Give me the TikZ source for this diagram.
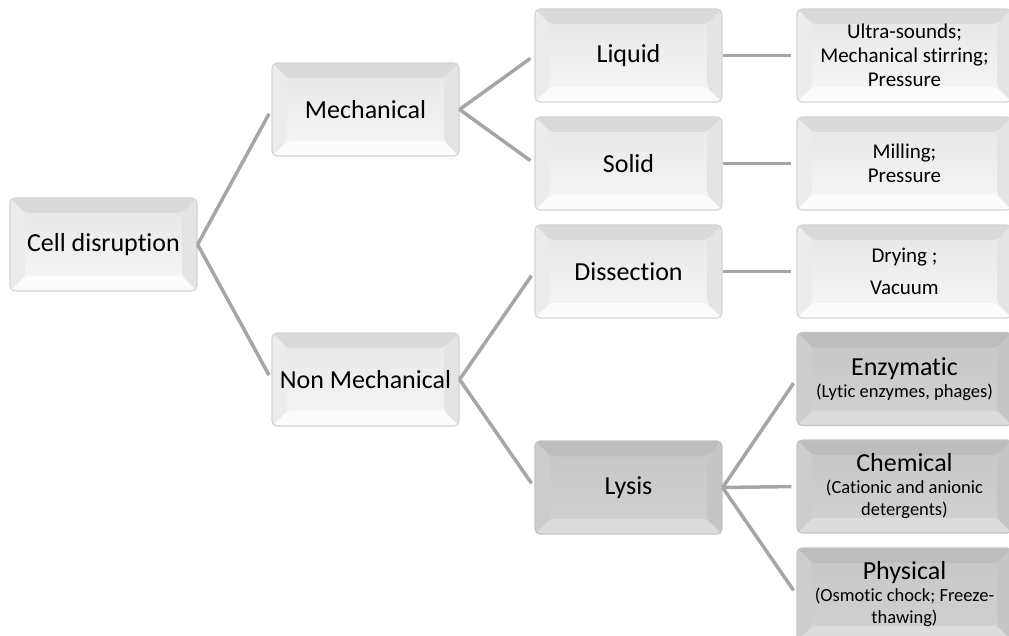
\documentclass[tikz,border=0pt]{standalone}
\usepackage{fontspec}
\setmainfont{Carlito}[Ligatures=NoCommon]
\definecolor{linkgray}{HTML}{A6A6A6}
\definecolor{boxedge}{HTML}{D4D4D4}
\definecolor{facetop}{HTML}{E6E6E6}
\definecolor{facebot}{HTML}{F7F7F7}
\definecolor{beveltop}{HTML}{DADADA}
\definecolor{bevelbot}{HTML}{FCFCFC}
\definecolor{bevelleft}{HTML}{ECECEC}
\definecolor{bevelright}{HTML}{E4E4E4}
\definecolor{darkedge}{HTML}{C4C4C4}
\definecolor{darktop}{HTML}{C6C6C6}
\definecolor{darkbot}{HTML}{D2D2D2}
\definecolor{darkbeveltop}{HTML}{BDBDBD}
\definecolor{darkbevelbot}{HTML}{DCDCDC}
\definecolor{darkbevelleft}{HTML}{CDCDCD}
\definecolor{darkbevelright}{HTML}{C5C5C5}
\tikzset{
  bevel/.style n args={4}{path picture={
    \fill[#1] (path picture bounding box.north west) -- (path picture bounding box.north east)
      -- ([shift={(-15pt,-15pt)}]path picture bounding box.north east)
      -- ([shift={(15pt,-15pt)}]path picture bounding box.north west) -- cycle;
    \fill[#2] (path picture bounding box.south west) -- (path picture bounding box.south east)
      -- ([shift={(-15pt,15pt)}]path picture bounding box.south east)
      -- ([shift={(15pt,15pt)}]path picture bounding box.south west) -- cycle;
    \fill[#3] (path picture bounding box.north west) -- ([shift={(15pt,-15pt)}]path picture bounding box.north west)
      -- ([shift={(15pt,15pt)}]path picture bounding box.south west) -- (path picture bounding box.south west) -- cycle;
    \fill[#4] (path picture bounding box.north east) -- ([shift={(-15pt,-15pt)}]path picture bounding box.north east)
      -- ([shift={(-15pt,15pt)}]path picture bounding box.south east) -- (path picture bounding box.south east) -- cycle;
  }},
  box/.style={rectangle, rounded corners=5pt, draw=boxedge, line width=1.2pt,
    minimum width=187pt, minimum height=93pt, align=center, inner sep=2pt,
    top color=facetop, bottom color=facebot,
    bevel={beveltop}{bevelbot}{bevelleft}{bevelright},
    font=\fontsize{26}{30}\selectfont},
  darkbox/.style={box, draw=darkedge, top color=darktop, bottom color=darkbot,
    bevel={darkbeveltop}{darkbevelbot}{darkbevelleft}{darkbevelright}},
  wide/.style={minimum width=215pt, font=\fontsize{21}{24}\selectfont},
  small/.style={minimum width=215pt, font=\fontsize{18.5}{22}\selectfont},
  link/.style={draw=linkgray, line width=3.5pt, shorten >=5pt},
}
\begin{document}
\begin{tikzpicture}[x=1pt,y=-1pt]
\useasboundingbox (0,0) rectangle (1009,636);
% Root and first level
\node[box] (cell) at (103.5,244.5) {Cell disruption};
\node[box] (mech) at (365.5,109.5) {Mechanical};
\node[box] (nonmech) at (365.5,379.5) {Non Mechanical};
% Second level
\node[box] (liquid) at (628.5,55.5) {Liquid};
\node[box] (solid) at (628.5,163.5) {Solid};
\node[box] (dissect) at (628.5,271.5) {Dissection};
\node[darkbox] (lysis) at (628.5,487.5) {Lysis};
% Methods
\node[box,wide] (ultra) at (904.5,55.5) {Ultra-sounds;\\Mechanical stirring;\\Pressure};
\node[box,wide] (milling) at (904.5,163.5) {Milling;\\Pressure};
\node[box,wide] (drying) at (904.5,271.5) {Drying ;\\[8pt]Vacuum};
\node[darkbox,small] (enzym) at (904.5,379) {{\fontsize{26}{30}\selectfont Enzymatic}\\(Lytic enzymes, phages)};
\node[darkbox,small] (chem) at (904.5,486.5) {{\fontsize{26}{30}\selectfont Chemical}\\(Cationic and anionic\\detergents)};
\node[darkbox,small] (phys) at (904.5,594.5) {{\fontsize{26}{30}\selectfont Physical}\\(Osmotic chock; Freeze-\\thawing)};
% Draw links
\draw[link] (cell.east) -- (mech.west);
\draw[link] (cell.east) -- (nonmech.west);
\draw[link] (mech.east) -- (liquid.west);
\draw[link] (mech.east) -- (solid.west);
\draw[link] (nonmech.east) -- (dissect.west);
\draw[link] (nonmech.east) -- (lysis.west);
\draw[link] (liquid.east) -- (ultra.west);
\draw[link] (solid.east) -- (milling.west);
\draw[link] (dissect.east) -- (drying.west);
\draw[link] (lysis.east) -- (enzym.west);
\draw[link] (lysis.east) -- (chem.west);
\draw[link] (lysis.east) -- (phys.west);
\end{tikzpicture}
\end{document}
